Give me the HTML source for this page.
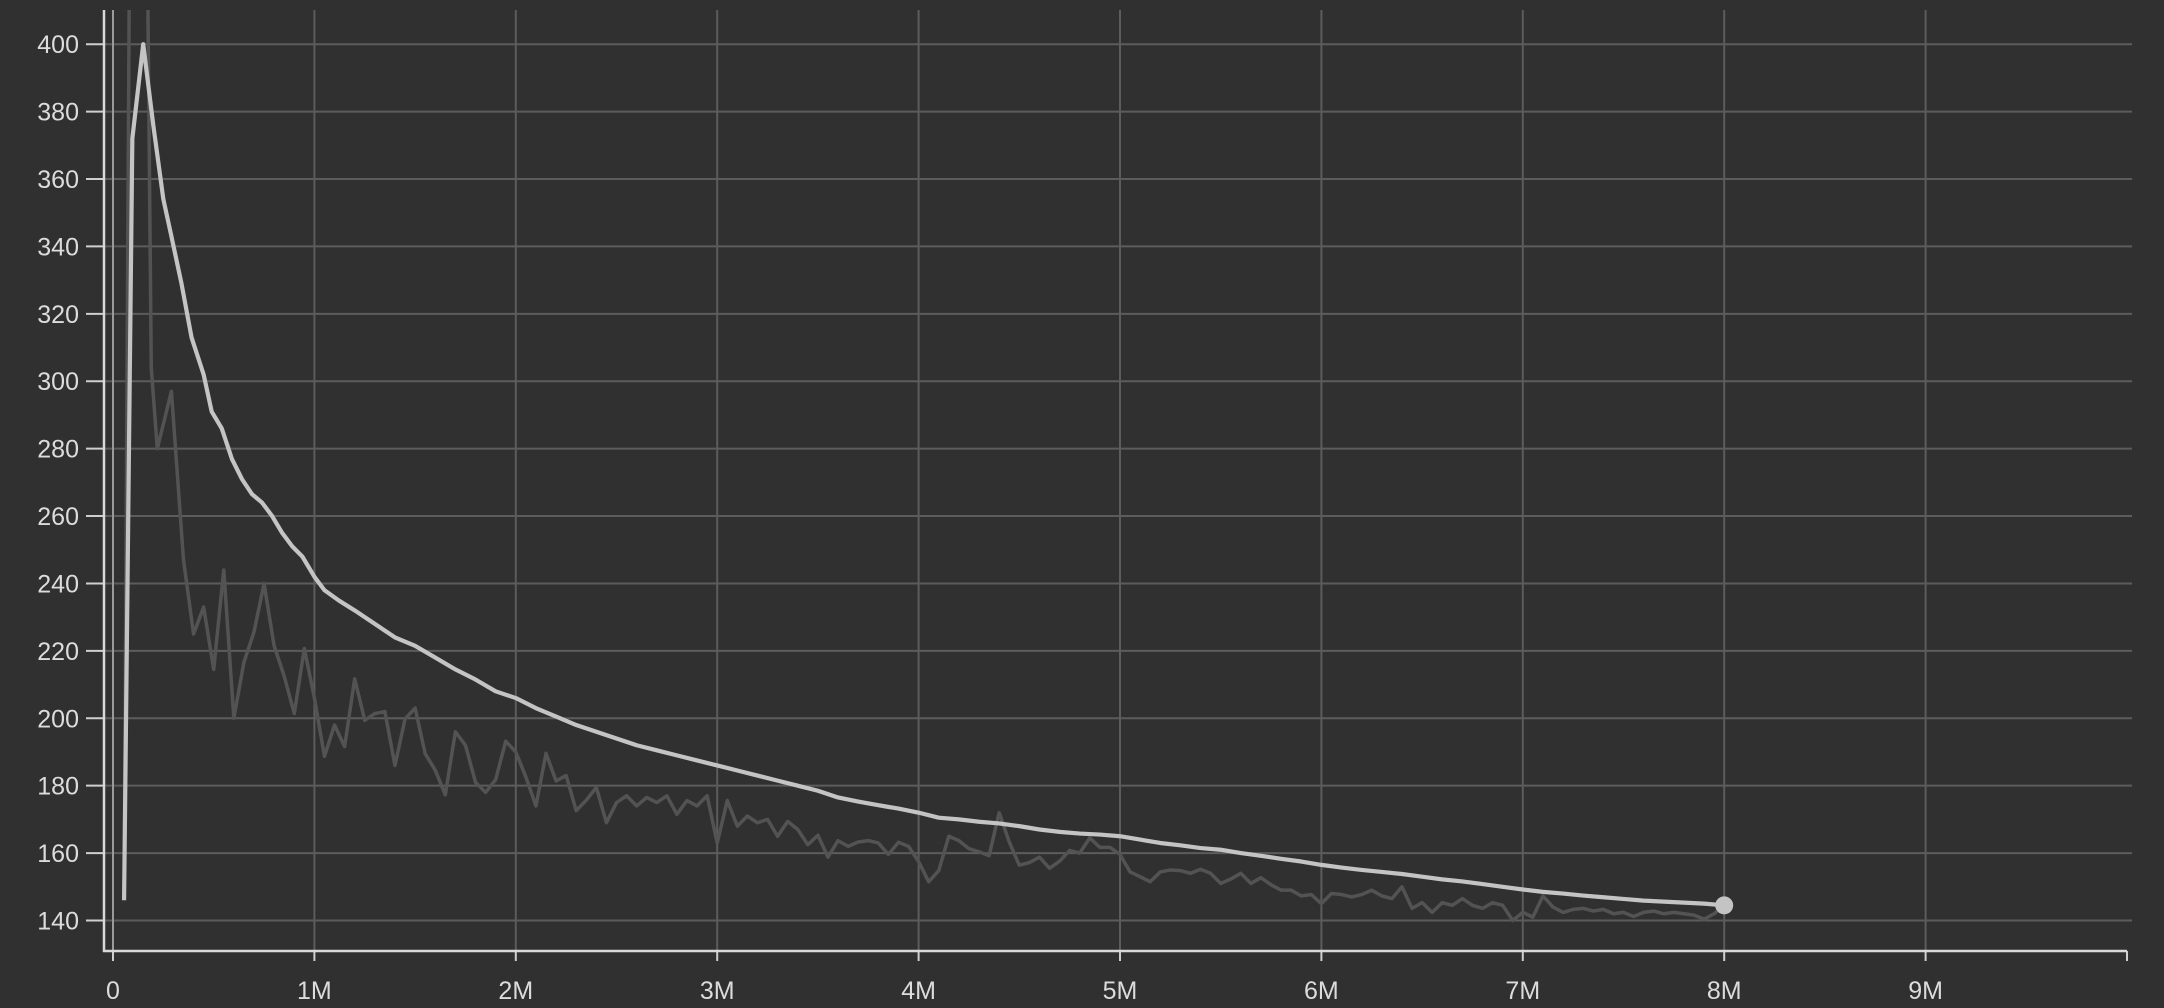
<!DOCTYPE html>
<html><head><meta charset="utf-8"><style>
html,body{margin:0;padding:0;background:#303030;}
svg{display:block;}
text{font-family:"Liberation Sans",sans-serif;fill:#dcdcdc;font-size:25px;}
</style></head><body>
<svg id="chart" width="2164" height="1008" viewBox="0 0 2164 1008" xmlns="http://www.w3.org/2000/svg">
<rect width="2164" height="1008" fill="#303030"/>
<defs><clipPath id="plotclip"><rect x="104" y="10" width="2030" height="941"/></clipPath></defs>
<g id="grid"></g>
<g id="series" clip-path="url(#plotclip)"></g>
<g id="axes"></g>
</svg>
<script>
const yTicks=[140,160,180,200,220,240,260,280,300,320,340,360,380,400];
const xTicks=[0,1,2,3,4,5,6,7,8,9];
const xTickLabels=["0","1M","2M","3M","4M","5M","6M","7M","8M","9M"];
const smoothX=[0.055,0.096,0.15,0.2,0.25,0.29,0.34,0.39,0.45,0.49,0.54,0.59,0.64,0.69,0.74,0.79,0.84,0.89,0.94,1.0,1.05,1.12,1.2,1.3,1.4,1.5,1.6,1.7,1.8,1.9,2.0,2.1,2.2,2.3,2.4,2.5,2.6,2.7,2.8,2.9,3.0,3.1,3.2,3.3,3.4,3.5,3.6,3.7,3.8,3.9,4.0,4.1,4.2,4.3,4.4,4.5,4.6,4.7,4.8,4.9,5.0,5.1,5.2,5.3,5.4,5.5,5.6,5.7,5.8,5.9,6.0,6.1,6.2,6.3,6.4,6.5,6.6,6.7,6.8,6.9,7.0,7.1,7.2,7.3,7.4,7.5,7.6,7.7,7.8,7.9,8.0];
const smoothY=[146,372,400,376,354,343,329,313,302,291,286,277,271,266.5,264,260,255,251,248,242,238,235,232,228,224,221.5,218,214.5,211.5,208,206,203,200.5,198,196,194,192,190.5,189,187.5,186,184.5,183,181.5,180,178.5,176.5,175.3,174.2,173.2,172,170.5,170,169.3,168.8,168,167,166.3,165.8,165.5,165,164,163,162.3,161.5,161,160,159.2,158.3,157.5,156.5,155.7,155,154.4,153.8,153,152.2,151.6,150.8,150,149.2,148.5,148,147.4,146.9,146.4,145.9,145.6,145.3,145,144.5];
const rawX=[0.055,0.1,0.15,0.19,0.22,0.29,0.35,0.4,0.45,0.5,0.55,0.6,0.65,0.7,0.75,0.8,0.85,0.9,0.95,1.0,1.05,1.1,1.15,1.2,1.25,1.3,1.35,1.4,1.45,1.5,1.55,1.6,1.65,1.7,1.75,1.8,1.85,1.9,1.95,2.0,2.05,2.1,2.15,2.2,2.25,2.3,2.35,2.4,2.45,2.5,2.55,2.6,2.65,2.7,2.75,2.8,2.85,2.9,2.95,3.0,3.05,3.1,3.15,3.2,3.25,3.3,3.35,3.4,3.45,3.5,3.55,3.6,3.65,3.7,3.75,3.8,3.85,3.9,3.95,4.0,4.05,4.1,4.15,4.2,4.25,4.3,4.35,4.4,4.45,4.5,4.55,4.6,4.65,4.7,4.75,4.8,4.85,4.9,4.95,5.0,5.05,5.1,5.15,5.2,5.25,5.3,5.35,5.4,5.45,5.5,5.55,5.6,5.65,5.7,5.75,5.8,5.85,5.9,5.95,6.0,6.05,6.1,6.15,6.2,6.25,6.3,6.35,6.4,6.45,6.5,6.55,6.6,6.65,6.7,6.75,6.8,6.85,6.9,6.95,7.0,7.05,7.1,7.15,7.2,7.25,7.3,7.35,7.4,7.45,7.5,7.55,7.6,7.65,7.7,7.75,7.8,7.85,7.9,7.95,8.0];
const rawY=[146,620,560,304,280,297,247,225,233,214.5,244,200,216.6,225.6,240,221.5,212.5,201.4,220.7,206,188.7,198,191.6,211.7,199.4,201.4,202,186,199.8,203,189.5,184.6,177.3,196,192,181,178,181.8,193.2,190,182.6,174,189.6,181.4,183,172.6,175.7,179.5,169,175,177,174,176.5,175,177,171.5,175.6,174,177,163,175.6,168,171,169,170,165,169.4,167,162.5,165.3,158.8,163.7,162,163.3,163.7,163,159.6,163.2,162,157.5,151.5,154.8,165,163.7,161.3,160.4,159.2,172,163.3,156.4,157.2,158.8,155.5,157.6,160.8,160,164.5,161.7,161.7,159.6,154.4,153,151.5,154.4,155,154.8,154,155.2,154,151,152.3,154,151,152.7,150.6,149,149,147.3,147.7,145,148,147.7,147,147.7,149,147.3,146.5,150,143.6,145.3,142.4,145.3,144.5,146.5,144.5,143.6,145.3,144.5,140,142.4,141,147.3,144,142.4,143.3,143.6,142.8,143.3,142,142.4,141.2,142.4,142.8,142,142.4,142,141.6,140.4,142,144.5];

const NS="http://www.w3.org/2000/svg";
function xs(v){return 113+v*201.4;}
function ys(v){return 44.2+(400-v)*(876.3/260);}
function mk(tag,attrs,parent){const e=document.createElementNS(NS,tag);for(const k in attrs)e.setAttribute(k,attrs[k]);parent.appendChild(e);return e;}
const grid=document.getElementById('grid'),axes=document.getElementById('axes'),series=document.getElementById('series');
yTicks.forEach(t=>{
  const l=mk('line',{x1:104,x2:2132,y1:ys(t),y2:ys(t),stroke:'#5c5c5c','stroke-width':2},grid);
  
  
  const tk=mk('line',{x1:86,x2:104,y1:ys(t),y2:ys(t),stroke:'#cfcfcf','stroke-width':2},axes);
  
  
  const tx=mk('text',{x:79,y:ys(t)+9,'text-anchor':'end'},axes);
  tx.textContent=t;
  
  
});
xTicks.forEach((t,i)=>{
  const l=mk('line',{x1:xs(t),x2:xs(t),y1:10,y2:951,stroke:i===0?'#9a9a9a':'#5c5c5c','stroke-width':2},grid);
  
  
  const tk=mk('line',{x1:xs(t),x2:xs(t),y1:951,y2:961,stroke:'#cfcfcf','stroke-width':2},axes);
  
  
  const tx=mk('text',{x:xs(t),y:999,'text-anchor':'middle'},axes);
  tx.textContent=xTickLabels[i];
  
  
});
const ya=mk('line',{x1:104,x2:104,y1:10,y2:952,stroke:'#d8d8d8','stroke-width':2.5},axes);


const xa=mk('line',{x1:103,x2:2127,y1:951,y2:951,stroke:'#d8d8d8','stroke-width':2.5},axes);


const xe=mk('line',{x1:2127,x2:2127,y1:951,y2:961,stroke:'#cfcfcf','stroke-width':2},axes);



const rawPath=mk('polyline',{points:rawX.map((x,i)=>xs(x)+','+ys(rawY[i])).join(' '),fill:'none',stroke:'#535353','stroke-width':3.5,'stroke-linejoin':'round'},series);


const smPath=mk('polyline',{points:smoothX.map((x,i)=>xs(x)+','+ys(smoothY[i])).join(' '),fill:'none',stroke:'#c4c4c4','stroke-width':4.2,'stroke-linejoin':'round'},series);


const n=smoothX.length-1;
const dot=mk('circle',{cx:xs(smoothX[n]),cy:ys(smoothY[n]),r:9,fill:'#c4c4c4'},document.getElementById('chart'));


</script>
</body></html>
